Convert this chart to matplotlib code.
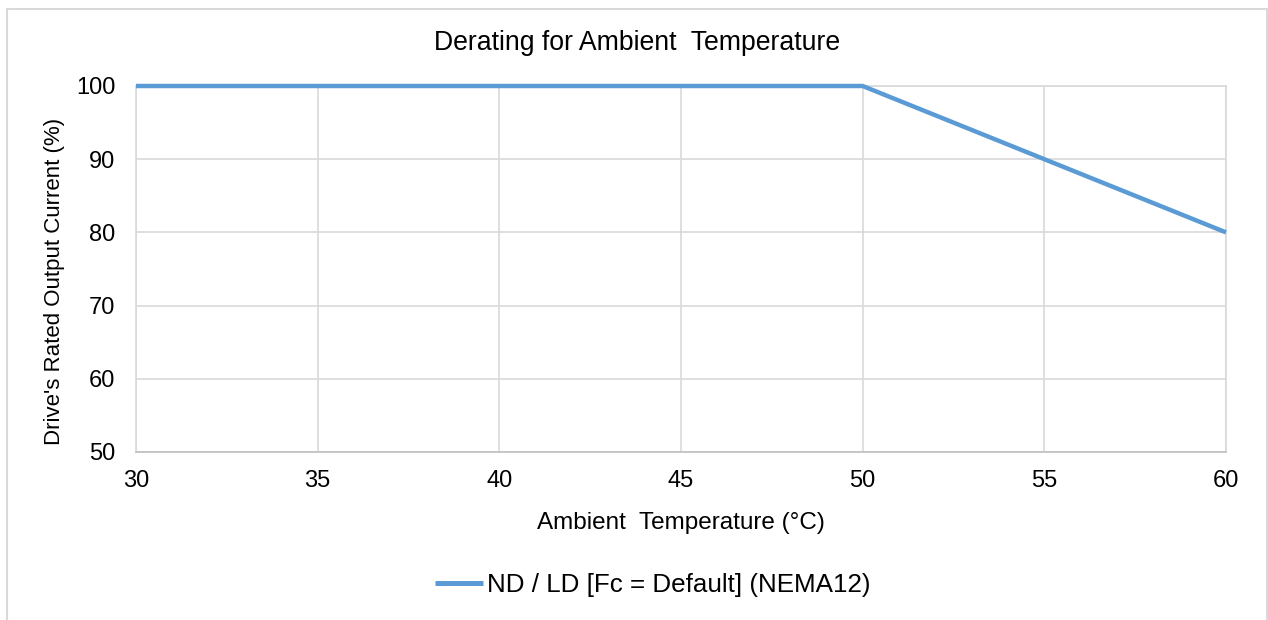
import matplotlib.pyplot as plt
from matplotlib.patches import Rectangle

# chart data
temps = [30, 35, 40, 45, 50, 55, 60]
current = [100, 100, 100, 100, 100, 90, 80]
series_name = "ND / LD [Fc = Default] (NEMA12)"
x_ticks = [30, 35, 40, 45, 50, 55, 60]
y_ticks = [50, 60, 70, 80, 90, 100]

plt.rcParams['font.family'] = ['Liberation Sans', 'DejaVu Sans']

W, H = 1268, 620
fig = plt.figure(figsize=(W / 100, H / 100), dpi=100)
fig.patch.set_facecolor('white')

# outer chart border
fig.patches.append(Rectangle((7 / W, -0.05), 1260 / W, 1.05 - 9 / H,
                             transform=fig.transFigure, fill=False,
                             edgecolor='#d9d9d9', linewidth=1.5))

ax = fig.add_axes([136 / W, 1 - 452 / H, (1226 - 136) / W, (452 - 86) / H])
ax.plot(temps, current, color='#5b9bd5', linewidth=3.2,
        solid_capstyle='butt', label=series_name, zorder=3, clip_on=False)

ax.set_xlim(30, 60)
ax.set_ylim(50, 100)
ax.set_xticks(x_ticks)
ax.set_yticks(y_ticks)
ax.grid(True, color='#d9d9d9', linewidth=1.2)
ax.set_axisbelow(True)
for s in ax.spines.values():
    s.set_color('#d9d9d9')
    s.set_linewidth(1.2)
ax.spines['bottom'].set_color('#bfbfbf')
ax.tick_params(length=0, labelsize=17, colors='#000000')
ax.tick_params(axis='y', pad=15)
ax.tick_params(axis='x', pad=13)

fig.text(637 / W, 1 - 43 / H, "Derating for Ambient  Temperature",
         ha='center', va='center', fontsize=19.2)
fig.text(681 / W, 1 - 523 / H, "Ambient  Temperature (°C)",
         ha='center', va='center', fontsize=17.5)
fig.text(55 / W, 1 - 281 / H, "Drive's Rated Output Current (%)",
         ha='center', va='center', rotation=90, fontsize=16)

leg = fig.legend(loc='center', bbox_to_anchor=(653 / W, 1 - 585 / H),
                 frameon=False, fontsize=18.7, handlelength=1.85,
                 handletextpad=0.15)
leg.get_lines()[0].set_linewidth(3.6)

fig.savefig('out.png', dpi=100, facecolor='white')
